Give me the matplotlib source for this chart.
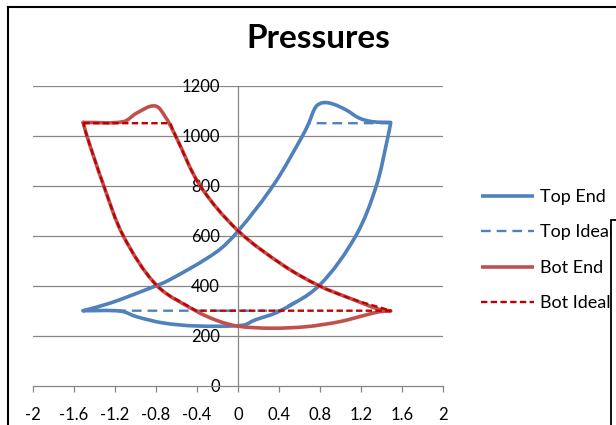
import numpy as np
import matplotlib
matplotlib.use("Agg")
import matplotlib.pyplot as plt
from matplotlib.path import Path
from matplotlib.patches import PathPatch, Rectangle
from matplotlib.lines import Line2D

plt.rcParams['font.family'] = ['Lato', 'DejaVu Sans']
plt.rcParams['axes.unicode_minus'] = False
plt.rcParams['lines.scale_dashes'] = False

# ---------------- data ----------------
title = "Pressures"
series_names = ["Top End", "Top Ideal", "Bot End", "Bot Ideal"]

top_end_x = [-1.51, -1.25, -0.86, -0.67, -0.21, 0.00, 0.35, 0.63, 0.69, 0.76, 0.83, 0.925,
             1.055, 1.185, 1.315, 1.49, 1.465, 1.35, 1.15, 0.79, 0.405, 0.16, 0.05,
             -0.41, -0.73, -0.99, -1.14, -1.51]
top_end_y = [300, 330, 390, 423, 535, 618, 805, 1000, 1050, 1116, 1132, 1127,
             1103, 1070, 1056, 1053, 1000, 800, 600, 400, 298, 262, 242,
             239, 251, 276, 298, 300]

top_ideal_x = [-1.51, -1.25, -0.86, -0.67, -0.21, 0.00, 0.35, 0.63, 0.69, 1.49,
               1.465, 1.35, 1.15, 0.79, 0.405, -1.51]
top_ideal_y = [300, 330, 390, 423, 535, 618, 805, 1000, 1050, 1050,
               1000, 800, 600, 400, 300, 300]

bot_end_x = [-1.51, -1.12, -0.99, -0.81, -0.71, -0.61, -0.37, 0.00, 0.44, 0.79,
             1.09, 1.38, 1.49, 1.38, 1.25, 0.99, 0.665, 0.32, 0.00, -0.20, -0.41,
             -0.79, -1.12, -1.31, -1.475, -1.51]
bot_end_y = [1053, 1056, 1090, 1119, 1076, 1000, 800, 620, 482, 400,
             350, 305, 299, 296, 283, 256, 236, 230, 238, 260, 299,
             400, 600, 800, 1000, 1053]

bot_ideal_x = [-1.51, -0.66, -0.61, -0.37, 0.00, 0.44, 0.79, 1.09, 1.49,
               -0.41, -0.79, -1.12, -1.31, -1.475, -1.51]
bot_ideal_y = [1050, 1050, 1000, 800, 620, 482, 400, 350, 300,
               300, 400, 600, 800, 1000, 1050]

x_ticks = [-2, -1.6, -1.2, -0.8, -0.4, 0, 0.4, 0.8, 1.2, 1.6, 2]
x_tick_labels = ["-2", "-1.6", "-1.2", "-0.8", "-0.4", "0", "0.4", "0.8", "1.2", "1.6", "2"]
y_ticks = [0, 200, 400, 600, 800, 1000, 1200]
y_tick_labels = ["0", "200", "400", "600", "800", "1000", "1200"]

# ---------------- styles ----------------
BLUE = "#4F81BD"
RED = "#C0504D"
DRED = "#C00000"
GRID = "#868686"

W, H = 616, 425
XMIN, XMAX, YMIN, YMAX = -2, 2, 0, 1200
AX_W, AX_H = 410, 300
SX = AX_W / (XMAX - XMIN)
SY = AX_H / (YMAX - YMIN)


def smooth_path(xs, ys, sharp=False, corner_deg=75):
    """Smoothed line (chord-length cubic Bezier) built in data coordinates."""
    P = np.column_stack([xs, ys]).astype(float)
    scale = np.array([SX, SY])
    Q = P * scale
    n = len(Q)
    d = np.linalg.norm(np.diff(Q, axis=0), axis=1)
    D = np.zeros_like(Q)
    corner = np.zeros(n, bool)
    for i in range(n):
        a = Q[max(i - 1, 0)]
        b = Q[min(i + 1, n - 1)]
        v = b - a
        D[i] = v / (np.linalg.norm(v) + 1e-12)
        if 0 < i < n - 1:
            u0 = Q[i] - Q[i - 1]
            u1 = Q[i + 1] - Q[i]
            c = np.dot(u0, u1) / (np.linalg.norm(u0) * np.linalg.norm(u1) + 1e-12)
            if np.degrees(np.arccos(np.clip(c, -1, 1))) > corner_deg:
                corner[i] = True
            if sharp and (P[i - 1][1] == P[i][1]) != (P[i + 1][1] == P[i][1]):
                corner[i] = True
    verts = [Q[0]]
    codes = [Path.MOVETO]
    for i in range(n - 1):
        seg = Q[i + 1] - Q[i]
        u = seg / (np.linalg.norm(seg) + 1e-12)
        t0 = u if corner[i] else D[i]
        t1 = u if corner[i + 1] else D[i + 1]
        if sharp and P[i][1] == P[i + 1][1]:
            t0 = t1 = u
        verts += [Q[i] + t0 * d[i] / 3, Q[i + 1] - t1 * d[i] / 3, Q[i + 1]]
        codes += [Path.CURVE4] * 3
    return Path(np.array(verts) / scale, codes)


fig = plt.figure(figsize=(W / 100, H / 100), dpi=100)
ax = fig.add_axes([33 / W, (H - 385.7) / H, AX_W / W, AX_H / H])
ax.set_xlim(XMIN, XMAX)
ax.set_ylim(YMIN, YMAX)

for yv in y_ticks[1:]:
    ax.axhline(yv, color=GRID, lw=0.9, zorder=1)

styles = [
    dict(color=BLUE, lw=2.6, ls='-', cap='round'),
    dict(color=BLUE, lw=1.7, ls=(0, (7.0, 4.3)), cap='butt'),
    dict(color=RED, lw=2.6, ls='-', cap='round'),
    dict(color=DRED, lw=1.7, ls=(0, (4.6, 2.4)), cap='butt'),
]
data = [(top_end_x, top_end_y, False), (top_ideal_x, top_ideal_y, True),
        (bot_end_x, bot_end_y, False), (bot_ideal_x, bot_ideal_y, True)]

handles = []
for (xs, ys, sharp), st, name in zip(data, styles, series_names):
    p = PathPatch(smooth_path(xs, ys, sharp), fill=False, edgecolor=st['color'],
                  lw=st['lw'], linestyle=st['ls'], capstyle=st['cap'],
                  joinstyle='round', zorder=3)
    ax.add_patch(p)
    handles.append(Line2D([], [], color=st['color'], lw=st['lw'], linestyle=st['ls'],
                          solid_capstyle='butt', dash_capstyle='butt', label=name))

for s in ['top', 'right']:
    ax.spines[s].set_visible(False)
ax.spines['left'].set_position(('data', 0))
ax.spines['left'].set_color(GRID)
ax.spines['left'].set_linewidth(0.9)
ax.spines['bottom'].set_color(GRID)
ax.spines['bottom'].set_linewidth(0.9)
ax.set_xticks(x_ticks)
ax.set_xticklabels(x_tick_labels)
ax.set_yticks(y_ticks)
ax.set_yticklabels(y_tick_labels)
ax.tick_params(axis='x', direction='out', length=4.5, width=0.9, color=GRID,
               labelsize=12, pad=11, labelcolor='black')
ax.tick_params(axis='y', length=0, labelsize=12, pad=13, labelcolor='black')
for lab in ax.get_yticklabels():
    lab.set_zorder(5)
ax.set_facecolor('none')

leg = fig.legend(handles=handles, loc='upper left',
                 bbox_to_anchor=(481 / W, 1 - 189 / H), frameon=False,
                 fontsize=13, handlelength=2.94, handletextpad=0.35,
                 labelspacing=1.08, borderpad=0, borderaxespad=0)

fig.text(318 / W, 1 - 48.3 / H, title, ha='center', va='baseline',
         fontsize=24, fontweight='bold')

fig.add_artist(Line2D([8 / W, 8 / W], [1 - 7 / H, 0], transform=fig.transFigure,
                      color='black', lw=1.5))
fig.add_artist(Line2D([8 / W, 1], [1 - 7 / H, 1 - 7 / H], transform=fig.transFigure,
                      color='black', lw=1.5))
fig.add_artist(Rectangle((611 / W, -0.05), 0.2, (H - 220) / H + 0.05,
                         transform=fig.transFigure, facecolor='white',
                         edgecolor='black', lw=1.3, zorder=10))

fig.savefig("out.png", dpi=100)
